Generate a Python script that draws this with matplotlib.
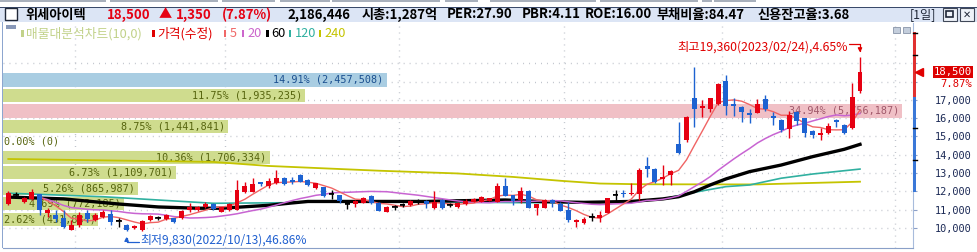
import numpy as np
import pandas as pd
import matplotlib
matplotlib.use("Agg")
import matplotlib.pyplot as plt
from matplotlib.patches import Rectangle

plt.rcParams['font.family'] = ['Noto Sans CJK KR', 'DejaVu Sans']

W, H = 978, 252
RED = '#e60012'
BLUE = '#1d62d1'
MONO = 'DejaVu Sans Mono'

# 일봉 시가/고가/저가/종가 (2022/09/23 ~ 2023/02/24)
opens = [11300, 11800, 11440, 11570, 11840, 10800, 10710, 10550, 9890, 10160,
         10820, 10440, 10620, 10770, 10400, 10160, 9980, 9890, 10440, 10530,
         10480, 10530, 10530, 10980, 10980, 11130, 11310, 10890, 10980, 10980,
         11980, 11980, 12500, 12310, 12440, 12750, 12620, 12900, 12620, 12170,
         12220, 11840, 11790, 11310, 11310, 11380, 11750, 11380, 10870, 11130,
         11260, 11260, 11440, 11490, 11080, 11530, 11260, 11160, 11310, 11440,
         11440, 11480, 11440, 12310, 11800, 11530, 12020, 11110, 11110, 11530,
         11310, 10980, 10310, 10290, 10590, 10560, 10840, 11800, 11930, 11840,
         11840, 13390, 13220, 12680, 12900, 14590, 14810, 17090, 16540, 16500,
         16780, 18030, 16760, 16630, 16300, 16300, 17030, 16120, 15900, 15410,
         16360, 15990, 15300, 15080, 15170, 15900, 15630, 15450, 17500]
highs = [12000, 11950, 11710, 12110, 11870, 11080, 10980, 10980, 10440, 10890,
         10980, 10800, 11000, 10980, 10530, 10200, 10160, 10450, 10720, 10650,
         10760, 10560, 10960, 11350, 11200, 11400, 11360, 11160, 11350, 12620,
         12530, 12720, 12530, 12720, 13170, 12800, 12800, 12960, 12660, 12470,
         12250, 12080, 11820, 11530, 11550, 11680, 11780, 11400, 11200, 11250,
         11380, 11530, 11560, 11530, 12020, 11600, 11380, 11420, 11580, 11620,
         11770, 11650, 12480, 12730, 11830, 12220, 12050, 11330, 11560, 11560,
         11420, 11440, 10470, 10600, 10800, 10930, 11650, 12080, 12100, 12480,
         13260, 13900, 13260, 13440, 13150, 15810, 16100, 18800, 16990, 17120,
         17900, 18360, 17120, 16650, 16490, 17030, 17270, 16360, 15930, 16390,
         16400, 16020, 15330, 15450, 15720, 15930, 15700, 17940, 19360]
lows = [11250, 11650, 11350, 11540, 10710, 10620, 10340, 9980, 9890, 10070,
        10340, 10380, 10560, 10160, 10070, 9830, 9950, 9850, 10400, 10420,
        10450, 10300, 10500, 10890, 10950, 11100, 11000, 10860, 10950, 10960,
        11900, 11960, 12300, 12170, 12400, 12350, 12430, 12500, 12300, 12140,
        11700, 11590, 11350, 11040, 11130, 11350, 11320, 10920, 10850, 11000,
        11120, 11200, 11310, 11080, 11040, 11050, 11150, 11100, 11280, 11400,
        11420, 11450, 11420, 11740, 11260, 11350, 11080, 10710, 11080, 11160,
        10920, 10340, 10070, 10200, 10400, 10340, 10800, 11480, 11700, 11800,
        11530, 12800, 12440, 12350, 12350, 14030, 14680, 15540, 16080, 16320,
        16740, 16170, 16140, 15810, 15720, 16270, 16400, 15630, 15260, 14900,
        15630, 14960, 14900, 14810, 15150, 15540, 15140, 15400, 17400]
closes = [11930, 11800, 11640, 11980, 10980, 10980, 10490, 10070, 10160, 10710,
          10490, 10710, 10890, 10340, 10400, 9890, 10110, 10400, 10660, 10530,
          10710, 10340, 10930, 11130, 11150, 11310, 11040, 11130, 11310, 12080,
          12300, 12400, 12400, 12570, 12720, 12400, 12500, 12530, 12350, 12440,
          11750, 11840, 11490, 11310, 11490, 11620, 11350, 10950, 11160, 11130,
          11260, 11490, 11440, 11310, 11440, 11110, 11260, 11350, 11480, 11590,
          11710, 11620, 12310, 11770, 11490, 12020, 11110, 11310, 11530, 11380,
          10950, 10440, 10440, 10490, 10590, 10710, 11620, 11800, 11840, 11930,
          13170, 13210, 12530, 12790, 13120, 14110, 16070, 16500, 16680, 17090,
          17870, 16680, 16680, 16320, 16170, 16780, 16490, 16010, 15360, 16170,
          15860, 15170, 15080, 15170, 15570, 15810, 15210, 17150, 18500]

# 장기 이동평균
ma60_x = [0, 7, 14, 19, 24, 27, 30, 33, 36, 38, 53, 56, 63, 68, 73, 79, 83, 85, 87, 89, 91, 94, 98, 102, 106, 108]
ma60_v = [11690, 11590, 11310, 11150, 11080, 11080, 11160, 11240, 11370, 11450, 11450, 11480, 11530, 11440,
          11400, 11450, 11590, 11710, 11980, 12350, 12680, 13080, 13440, 13900, 14300, 14570]
ma120_x = [0, 12, 19, 26, 35, 41, 66, 79, 83, 87, 91, 94, 98, 102, 108]
ma120_v = [11900, 11710, 11530, 11350, 11380, 11480, 11380, 11440, 11590, 11950, 12260, 12350, 12720, 12950, 13220]
ma240_x = [0, 13, 26, 33, 40, 47, 57, 64, 70, 75, 80, 95, 100, 108]
ma240_v = [13770, 13690, 13610, 13390, 13260, 13130, 12980, 12790, 12580, 12430, 12390, 12380, 12440, 12530]

# 매물대 (위 -> 아래)
prof_pct = [14.91, 11.75, 34.94, 8.75, 0.00, 10.36, 6.73, 5.26, 4.69, 2.62]
prof_vol = [2457508, 1935235, 5756187, 1441841, 0, 1706334, 1109701, 865987, 772185, 431884]
prof_low, prof_high = 10000, 18460
prof_span = 35.37   # 차트 폭 전체에 해당하는 매물대 %

month_lines = [8.5, 27.5, 49.5, 70.5, 90.5, 112.5]
price_ticks = list(range(10000, 20000, 1000))
hi_idx, hi_val = 108, 19360
lo_idx, lo_val = 15, 9830
prev_close = 17150
ind_top, ind_bottom = 20700, 11970
ind_marks = [20650, 19450, 15460, 13720]


def fx(x):
    return x / W


def fy(y):
    return 1 - y / H


fig = plt.figure(figsize=(W / 100, H / 100), dpi=100)
fig.patch.set_facecolor('white')

# 상단 헤더
fig.add_artist(Rectangle((fx(0), fy(22)), 1, 15 / H, transform=fig.transFigure,
                         fc='#dce5f5', ec='none'))
fig.add_artist(Rectangle((fx(0), fy(7.5)), 1, 1 / H, transform=fig.transFigure, fc='#3a4a6a', ec='none'))
for x0, x1 in [(0, 106), (110, 218), (222, 275), (280, 330), (332, 440), (445, 478), (490, 596),
               (600, 698), (702, 712), (714, 756)]:
    fig.add_artist(Rectangle((fx(x0), fy(2)), (x1 - x0) / W, 2 / H, transform=fig.transFigure,
                             fc='#a8b0bc', ec='none'))
fig.add_artist(Rectangle((fx(5), fy(20)), 12 / W, 12 / H, transform=fig.transFigure,
                         fc='white', ec='#202838', lw=1))

head = [("위세아이텍", 25, 'black'), ("18,500", 107, RED), ("▲", 159, RED), ("1,350", 176, RED),
        ("(7.87%)", 222, RED), ("2,186,446", 287, 'black'), ("시총:1,287억", 362, 'black'),
        ("PER:27.90", 447, 'black'), ("PBR:4.11", 522, 'black'), ("ROE:16.00", 585, 'black'),
        ("부채비율:84.47", 656, 'black'), ("신용잔고율:3.68", 758, 'black')]
for txt, x, c in head:
    fig.text(fx(x), fy(14.5), txt, color=c, fontsize=9.5, fontweight='bold', ha='left', va='center')
fig.text(fx(910), fy(14.5), "[1일]", color='#202838', fontsize=8.8, ha='left', va='center')
for x0 in [943, 960]:
    fig.add_artist(Rectangle((fx(x0), fy(21)), 14 / W, 13 / H, transform=fig.transFigure,
                             fc='#eef2f8', ec='#404858', lw=0.8))
fig.add_artist(Rectangle((fx(946.5), fy(16.5)), 7 / W, 5 / H, transform=fig.transFigure,
                         fc='none', ec='#202838', lw=1.2))
fig.text(fx(967), fy(14.5), "✕", color='#202838', fontsize=7, ha='center', va='center',
         family=['DejaVu Sans'])

# 범례
fig.add_artist(Rectangle((fx(6), fy(28.5)), 10 / W, 3.5 / H, transform=fig.transFigure,
                         fc='#8898b8', ec='none'))
legend = [("매물대분석차트(10,0)", 21, '#c2d28a'), ("가격(수정)", 152, '#e00000'),
          ("5", 224, '#f06868'), ("20", 242, '#cc66cc'), ("60", 266, 'black'),
          ("120", 289, '#30b0a0'), ("240", 319, '#c4c400')]
for txt, x, c in legend:
    fig.add_artist(Rectangle((fx(x), fy(37)), 2.5 / W, 7 / H, transform=fig.transFigure,
                             fc=c, ec='none'))
    fig.text(fx(x + 5.5), fy(33.5), txt, color=c, fontsize=9.2, ha='left', va='center')

# 차트 영역
ax = fig.add_axes([fx(3), fy(248), 910 / W, 225 / H])
ax.set_facecolor('none')
ax.set_xlim(-0.672, 114.72)
ax.set_ylim(8907, 21201)

for p in price_ticks:
    ax.axhline(p, color='#c0c4cc', lw=1, ls=(0, (0.7, 3.6)), zorder=0.5)
for m in month_lines:
    ax.axvline(m, color='#c0c4cc', lw=1, ls=(0, (0.7, 3.6)), zorder=0.5)

# 매물대 막대
edges = np.linspace(prof_high, prof_low, len(prof_pct) + 1)
binh = edges[0] - edges[1]
cur_bin = int(np.clip((prof_high - closes[-1]) // binh, 0, len(prof_pct) - 1))
max_bin = int(np.argmax(prof_pct))
ytr = ax.get_yaxis_transform()
char_w = 6.05 / 910   # 라벨 한 글자 폭 (축 비율)
for i, (pct, vol) in enumerate(zip(prof_pct, prof_vol)):
    if i == max_bin:
        fc, tc = '#f0c0c6', '#a0586a'
    elif i == cur_bin:
        fc, tc = '#a9cde2', '#1a4f8f'
    else:
        fc, tc = '#cfdc8e', '#56640e'
    bot = edges[i + 1] + 115
    top = edges[i]
    mid = (bot + top) / 2
    label = f"{pct:.2f}% ({vol:,})"
    if pct == 0:
        ax.annotate(label, (0, mid), xycoords=ytr, xytext=(1, 0), textcoords='offset pixels',
                    ha='left', va='center', color=tc, family=MONO, fontsize=7.3, zorder=1.5)
        continue
    bw = pct / prof_span
    need = len(label) * char_w + 4 / 910
    if bw < need:
        bw = need
        ax.annotate(label, (0, mid), xycoords=ytr, xytext=(1, 0), textcoords='offset pixels',
                    ha='left', va='center', color=tc, family=MONO, fontsize=7.3, zorder=1.5)
    else:
        ax.annotate(label, (bw, mid), xycoords=ytr, xytext=(-3, 0), textcoords='offset pixels',
                    ha='right', va='center', color=tc, family=MONO, fontsize=7.3, zorder=1.5)
    ax.add_patch(Rectangle((0, bot), bw, top - bot, transform=ytr, fc=fc, ec='none', zorder=1))

# 이동평균선
idx = np.arange(len(closes))
s = pd.Series(closes)
ma5 = s.rolling(5).mean()
ma20 = s.rolling(20, min_periods=5).mean()
ax.plot(ma240_x, ma240_v, color='#c4c400', lw=1.3, zorder=2)
ax.plot(ma120_x, ma120_v, color='#30b0a0', lw=1.2, zorder=2.1)
ax.plot(ma60_x, ma60_v, color='black', lw=2.4, zorder=2.2)
ax.plot(idx, ma20, color='#c864d2', lw=1.1, zorder=2.3)
ax.plot(idx, ma5, color='#f06464', lw=1.0, zorder=2.4)

# 캔들
o = np.array(opens)
c = np.array(closes)
col = np.where(c > o, RED, np.where(c < o, BLUE, 'black'))
ax.vlines(idx, lows, highs, colors=col, lw=1, zorder=3)
body = np.maximum(np.abs(c - o), 45)
ax.bar(idx, body, bottom=np.minimum(o, c), width=0.63, color=col, zorder=3.1)
doji = c == o
ax.hlines(c[doji], idx[doji] - 0.36, idx[doji] + 0.36, colors='black', lw=1.2, zorder=3.2)

# 최고/최저 표시
ax.annotate("최고19,360(2023/02/24),4.65%", (hi_idx, hi_val), xytext=(-12, 9.5),
            textcoords='offset pixels', ha='right', va='center', color='#e00000', fontsize=8.8)
ax.annotate('', (hi_idx, hi_val), xytext=(-11, 12.5), textcoords='offset pixels',
            arrowprops=dict(arrowstyle='-|>', connectionstyle='angle,angleA=0,angleB=90,rad=0',
                            color='#e00000', lw=0.9, shrinkA=0, shrinkB=3, mutation_scale=6))
ax.annotate("최저9,830(2022/10/13),46.86%", (lo_idx, lo_val), xytext=(14, -9),
            textcoords='offset pixels', ha='left', va='center', color='#2060d0', fontsize=8.6)
ax.annotate('', (lo_idx, lo_val), xytext=(12.5, -11), textcoords='offset pixels',
            arrowprops=dict(arrowstyle='-|>', connectionstyle='angle,angleA=0,angleB=90,rad=0',
                            color='#2060d0', lw=0.9, shrinkA=0, shrinkB=4, mutation_scale=6))

# 오른쪽 가격축 (현재가 표시에 가려지는 눈금은 비움)
ax.set_xticks([])
ax.yaxis.tick_right()
ax.set_yticks(price_ticks)
ax.set_yticklabels(["" if abs(p - closes[-1]) < 600 else f"{p:,}" for p in price_ticks])
ax.tick_params(axis='y', length=3, color='#8da0c8', pad=39.5, labelsize=7.4, labelcolor='#1c2a56')
for t in ax.get_yticklabels():
    t.set_ha('right')
    t.set_family(MONO)
for side in ['top', 'left']:
    ax.spines[side].set_visible(False)
ax.spines['bottom'].set_color('#8aa0c8')
ax.spines['right'].set_color('#a8bcdc')

ax.add_patch(Rectangle((1.0, prev_close), 3.5 / 910, ind_top - prev_close, transform=ytr,
                       fc='#e03030', ec='none', clip_on=False, zorder=5))
ax.add_patch(Rectangle((1.0, ind_bottom), 3.5 / 910, prev_close - ind_bottom, transform=ytr,
                       fc='#3a78d8', ec='none', clip_on=False, zorder=5))
for m in ind_marks:
    ax.plot([1.0, 1.0 + 4 / 910], [m, m], color='black', lw=1, transform=ytr, clip_on=False, zorder=6)

ax.plot([1.0 + 6 / 910], [closes[-1]], marker='<', ms=6, color='#e00000', transform=ytr,
        clip_on=False, zorder=6)
ax.annotate(f"{closes[-1]:,}", (1.0, closes[-1]), xycoords=ytr, xytext=(59, 0.5),
            textcoords='offset pixels', ha='right', va='center', color='white', family=MONO,
            fontsize=7.6, bbox=dict(boxstyle='square,pad=0.08', fc='#dd0000', ec='none'),
            annotation_clip=False, zorder=7)
ax.annotate("7.87%", (1.0, closes[-1]), xycoords=ytr, xytext=(59, -12),
            textcoords='offset pixels', ha='right', va='center', color='#e00000', family=MONO,
            fontsize=7.6, annotation_clip=False, zorder=7)

# 작은 아이콘
for x0 in [893, 903]:
    fig.add_artist(Rectangle((fx(x0), fy(33)), 7 / W, 6 / H, transform=fig.transFigure,
                             fc='#c4cedc', ec='#8894a8', lw=0.6))
fig.add_artist(Rectangle((fx(2), fy(248)), 1 / W, 226 / H, transform=fig.transFigure,
                         fc='#8da6cf', ec='none'))

fig.savefig('out.png', dpi=100)
